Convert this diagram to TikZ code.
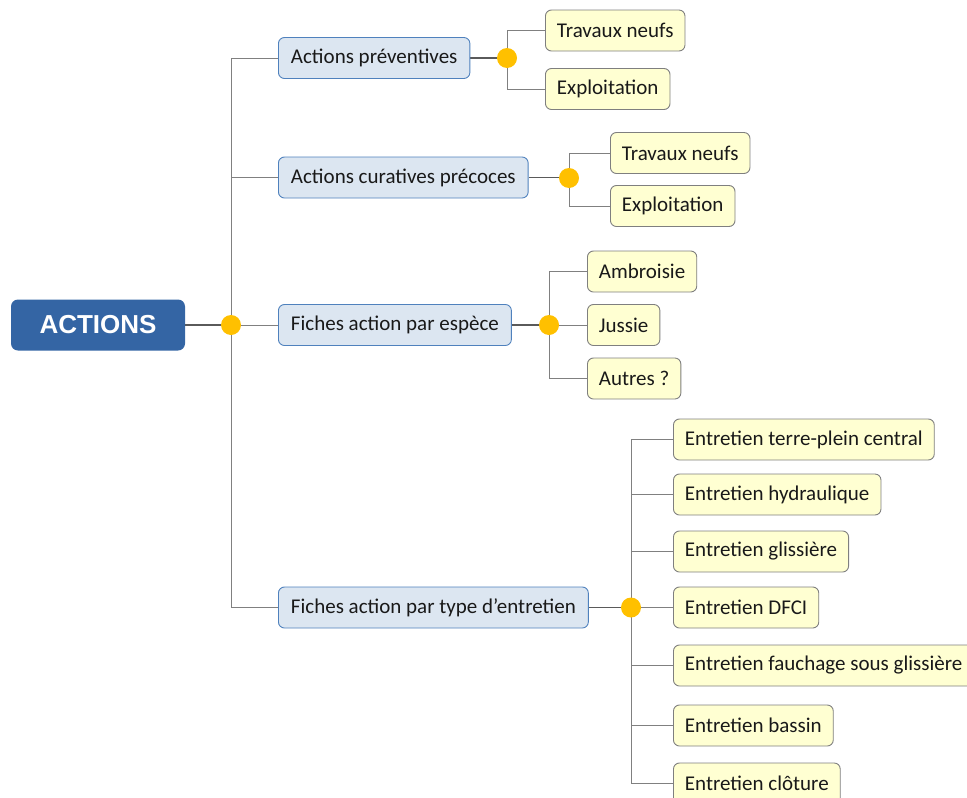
\documentclass[tikz,border=0pt]{standalone}
\usepackage{fontspec}
\setmainfont{Carlito}
\newfontfamily\arialb{Liberation Sans}
\usetikzlibrary{backgrounds}
\definecolor{mainblue}{HTML}{3465A4}
\definecolor{subfill}{HTML}{DCE6F1}
\definecolor{subline}{HTML}{4F81BD}
\definecolor{leaffill}{HTML}{FFFFD2}
\definecolor{leafline}{HTML}{7F7F7F}
\definecolor{dotcol}{HTML}{FFC000}
\definecolor{linkcol}{HTML}{808080}
\definecolor{thicklink}{HTML}{5A5A5A}
\tikzset{
  rootbox/.style={draw=none, fill=mainblue, rounded corners=7pt, text=white,
    font=\arialb\bfseries\fontsize{26}{30}\selectfont, minimum width=174pt, minimum height=51pt, inner sep=0pt},
  subbox/.style={draw=subline, fill=subfill, rounded corners=6pt, line width=0.9pt,
    font=\fontsize{21}{25}\selectfont, minimum height=41pt, inner xsep=12.5pt, inner ysep=0pt, anchor=west, text=black!90},
  leafbox/.style={draw=leafline, fill=leaffill, rounded corners=6pt, line width=0.9pt,
    font=\fontsize{21}{25}\selectfont, minimum height=41pt, inner xsep=11.5pt, inner ysep=0pt, anchor=west, text=black!90},
  dot/.style={circle, fill=dotcol, draw=none, minimum size=20pt, inner sep=0pt},
  link/.style={draw=linkcol, line width=1pt},
  mainlink/.style={draw=thicklink, line width=1.8pt},
}
\begin{document}
\begin{tikzpicture}[x=1pt,y=-1pt]
\useasboundingbox (0,0) rectangle (967,798);
\begin{scope}
\clip (0,0) rectangle (967,798);
% root
\node[rootbox] (root) at (98,325) {ACTIONS};
% first-level nodes
\node[subbox] (ap) at (278,58) {Actions préventives};
\node[subbox] (ac) at (278,177.5) {Actions curatives précoces};
\node[subbox] (fe) at (278,325) {Fiches action par espèce};
\node[subbox] (ft) at (278,607.5) {Fiches action par type d’entretien};
% junctions
\node[dot] (j0) at (231,325) {};
\node[dot] (j1) at (507,58) {};
\node[dot] (j2) at (569,178) {};
\node[dot] (j3) at (549,325) {};
\node[dot] (j4) at (631,607.5) {};
% leaves
\node[leafbox] (l1a) at (545,30.5) {Travaux neufs};
\node[leafbox] (l1b) at (545,89) {Exploitation};
\node[leafbox] (l2a) at (610,153) {Travaux neufs};
\node[leafbox] (l2b) at (610,206) {Exploitation};
\node[leafbox] (l3a) at (587,271.5) {Ambroisie};
\node[leafbox] (l3b) at (587,325) {Jussie};
\node[leafbox] (l3c) at (587,378.5) {Autres ?};
\node[leafbox] (l4a) at (673,439.5) {Entretien terre-plein central};
\node[leafbox] (l4b) at (673,494.5) {Entretien hydraulique};
\node[leafbox] (l4c) at (673,551.5) {Entretien glissière};
\node[leafbox] (l4d) at (673,607.5) {Entretien DFCI};
\node[leafbox] (l4e) at (673,665.5) {Entretien fauchage sous glissière};
\node[leafbox] (l4f) at (673,725.5) {Entretien bassin};
\node[leafbox] (l4g) at (673,783.5) {Entretien clôture};
% connectors
\begin{scope}[on background layer]
\draw[mainlink] (root.east) -- (j0.center);
\draw[link] (j0.center) |- (ap.west);
\draw[link] (j0.center) |- (ac.west);
\draw[link] (j0.center) -- (fe.west);
\draw[link] (j0.center) |- (ft.west);
\draw[mainlink] (ap.east) -- (j1.center);
\draw[mainlink] (ac.east) -- (ac.east -| j2.center);
\draw[mainlink] (fe.east) -- (j3.center);
\draw[mainlink] (ft.east) -- (j4.center);
\draw[link] (j1.center) |- (l1a.west);
\draw[link] (j1.center) |- (l1b.west);
\draw[link] (j2.center) |- (l2a.west);
\draw[link] (j2.center) |- (l2b.west);
\draw[link] (j3.center) |- (l3a.west);
\draw[link] (j3.center) -- (l3b.west);
\draw[link] (j3.center) |- (l3c.west);
\draw[link] (j4.center) |- (l4a.west);
\draw[link] (j4.center) |- (l4b.west);
\draw[link] (j4.center) |- (l4c.west);
\draw[link] (j4.center) -- (l4d.west);
\draw[link] (j4.center) |- (l4e.west);
\draw[link] (j4.center) |- (l4f.west);
\draw[link] (j4.center) |- (l4g.west);
\end{scope}
\end{scope}
\end{tikzpicture}
\end{document}
